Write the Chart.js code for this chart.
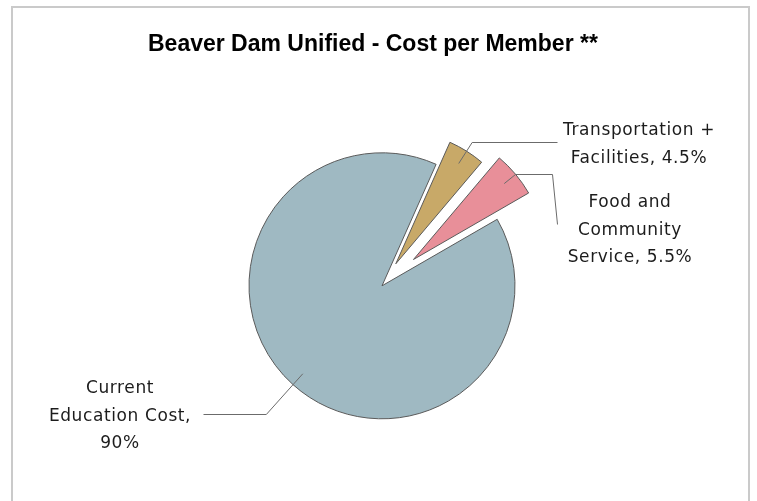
<!DOCTYPE html>
<html>
<head>
<meta charset="utf-8">
<script src="https://cdn.jsdelivr.net/npm/chart.js@4"></script>
<style>
  body { margin: 0; background: #fff; }
  .frame {
    position: absolute;
    left: 11px;
    top: 6px;
    width: 739px;
    height: 620px;
    box-sizing: border-box;
    border: 2px solid #cacaca;
  }
  #cost-chart { position: absolute; left: 0; top: 0; }
</style>
</head>
<body>
<div class="frame"></div>
<canvas id="cost-chart" width="757" height="501"></canvas>
<script>
// chart data
const categories = [
  "Current Education Cost",
  "Transportation + Facilities",
  "Food and Community Service",
];
const values = [90, 4.5, 5.5];
const colors = ["#9fb9c2", "#c8a968", "#e88f99"];

// how far each slice is pulled out (px)
const explode = [0, 26, 41];

// leader lines + label placement
const elbow = [1.3, 1.08, 1.0];
const leaderEndX = [203.5, 557.5, 552.5];
const leaderDrop = [null, null, [5, 50]];
const labelPos = [
  [120, 393],
  [639, 135],
  [630, 207],
];
const wrapWidth = [160, 175, 150];

const explodePlugin = {
  id: "explode",
  beforeDatasetsDraw(chart) {
    const area = chart.chartArea;
    const cx = (area.left + area.right) / 2,
      cy = (area.top + area.bottom) / 2;
    chart.getDatasetMeta(0).data.forEach((arc, i) => {
      const mid = (arc.startAngle + arc.endAngle) / 2;
      arc.x = cx + Math.cos(mid) * explode[i];
      arc.y = cy + Math.sin(mid) * explode[i];
    });
  },
};

function wrapText(ctx, text, maxWidth) {
  const words = text.split(" ");
  let lines = [],
    line = "";
  words.forEach((w) => {
    const test = line ? line + " " + w : w;
    if (line && ctx.measureText(test).width > maxWidth) {
      lines.push(line);
      line = w;
    } else {
      line = test;
    }
  });
  lines.push(line);
  return lines;
}

const labelPlugin = {
  id: "sliceLabels",
  afterDatasetsDraw(chart) {
    const ctx = chart.ctx;
    const meta = chart.getDatasetMeta(0);
    ctx.save();
    ctx.strokeStyle = "#6b6b6b";
    ctx.lineWidth = 1;
    ctx.font = "17px 'DejaVu Sans'";
    ctx.letterSpacing = "0.6px";
    ctx.fillStyle = "#1c1c1c";
    ctx.textAlign = "center";
    ctx.textBaseline = "alphabetic";

    meta.data.forEach((arc, i) => {
      const mid = (arc.startAngle + arc.endAngle) / 2;
      const r = arc.outerRadius;
      const cos = Math.cos(mid),
        sin = Math.sin(mid);
      const x0 = arc.x + cos * r * 0.89,
        y0 = arc.y + sin * r * 0.89;
      const x1 = arc.x + cos * r * elbow[i],
        y1 = Math.round(arc.y + sin * r * elbow[i]) + 0.5;

      ctx.beginPath();
      ctx.moveTo(x0, y0);
      ctx.lineTo(x1, y1);
      ctx.lineTo(leaderEndX[i], y1);
      if (leaderDrop[i]) {
        ctx.lineTo(leaderEndX[i] + leaderDrop[i][0], y1 + leaderDrop[i][1]);
      }
      ctx.stroke();

      const text = categories[i] + ", " + values[i] + "%";
      const lines = wrapText(ctx, text, wrapWidth[i]);
      lines.forEach((ln, j) => {
        ctx.fillText(ln, labelPos[i][0], labelPos[i][1] + j * 27.5);
      });
    });
    ctx.restore();
  },
};

const config = {
  type: "pie",
  data: {
    labels: categories,
    datasets: [
      {
        data: values,
        backgroundColor: colors,
        borderColor: "#5a5a5a",
        borderWidth: 1,
      },
    ],
  },
  options: {
    responsive: false,
    animation: false,
    devicePixelRatio: 1,
    rotation: 60,
    radius: 133,
    layout: {
      padding: { left: 148, right: 141, top: 10, bottom: 0 },
    },
    plugins: {
      legend: { display: false },
      tooltip: { enabled: false },
      title: {
        display: true,
        align: "start",
        text: "Beaver Dam Unified - Cost per Member **",
        color: "#000",
        font: { family: "'Liberation Sans', Arial, sans-serif", size: 23, weight: "bold" },
        padding: { top: 21, bottom: 12 },
      },
    },
  },
  plugins: [explodePlugin, labelPlugin],
};

const costChart = new Chart(document.getElementById("cost-chart"), config);
</script>
</body>
</html>
